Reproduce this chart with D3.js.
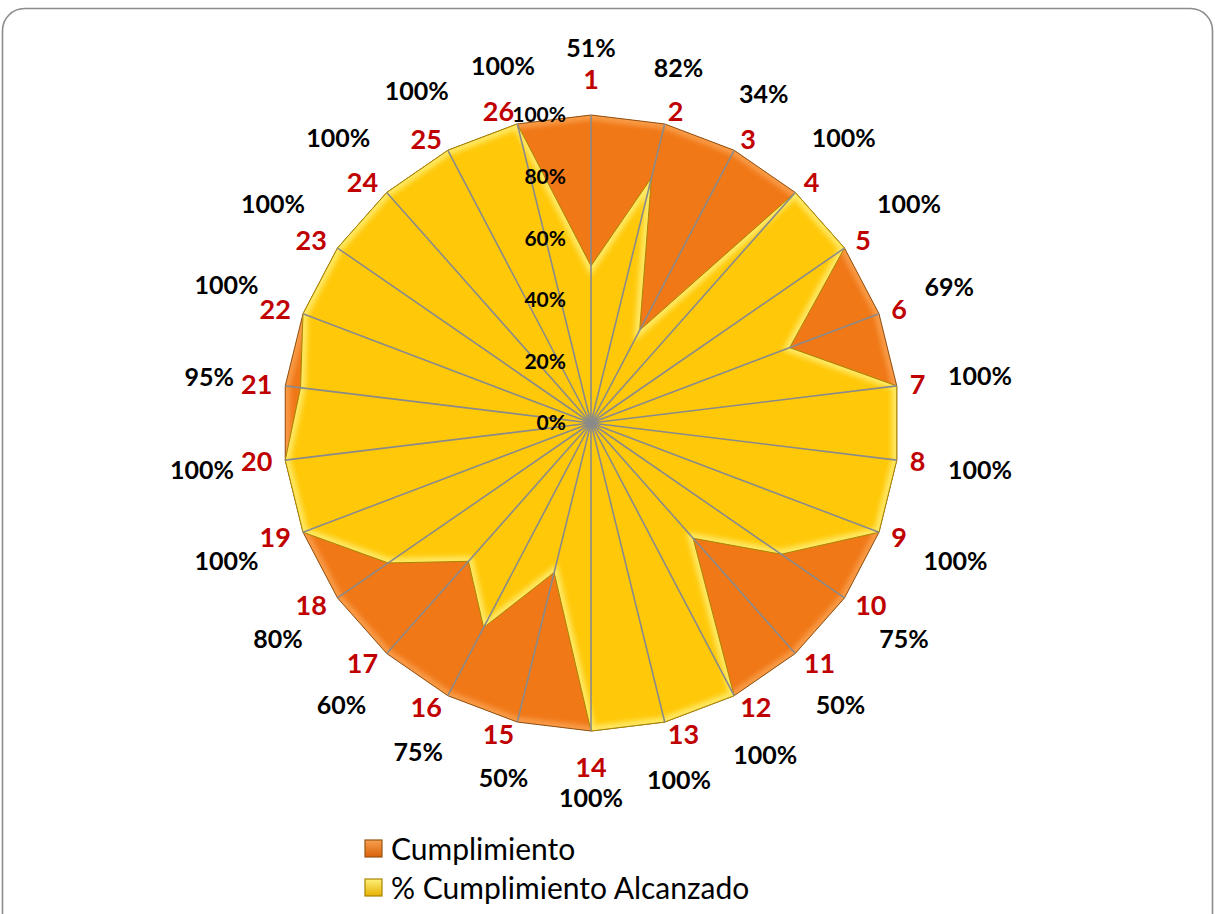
<!DOCTYPE html>
<html>
<head>
<meta charset="utf-8">
<script src="https://cdn.jsdelivr.net/npm/d3@7"></script>
<style>
  body { margin: 0; background: #fff; }
  #svg-container { width: 1215px; height: 914px; }
  text { font-family: Lato, "Open Sans", sans-serif; }
</style>
</head>
<body>
<div id="svg-container"></div>
<script>
// categorias (ejes del radar)
const categories = d3.range(1, 27).map(String)
// serie 1: cumplimiento (meta, 100% en todos)
const cumplimiento = [1,1,1,1,1,1,1,1,1,1,1,1,1,1,1,1,1,1,1,1,1,1,1,1,1,1]
// serie 2: % cumplimiento alcanzado
const alcanzado = [0.51,0.82,0.34,1,1,0.69,1,1,1,0.75,0.50,1,1,1,0.50,0.75,0.60,0.80,1,1,0.95,1,1,1,1,1]
// etiquetas de la escala radial
const ticks = [0, 0.2, 0.4, 0.6, 0.8, 1]
const seriesNames = ['Cumplimiento', '% Cumplimiento Alcanzado']

const width = 1215, height = 914
const cx = 591, cy = 423, radius = 308

const svg = d3.select('#svg-container').append('svg')
    .attr('width', width).attr('height', height)

//borde del grafico
svg.append('rect')
    .attr('x', 2.5).attr('y', 8.5).attr('width', 1210).attr('height', 960)
    .attr('rx', 22).attr('fill', '#fff').attr('stroke', '#8c8c8c').attr('stroke-width', 1.6)

const defs = svg.append('defs')
defs.append('filter').attr('id', 'blur').append('feGaussianBlur').attr('stdDeviation', 2.5)

const rScale = d3.scaleLinear().domain([0, 1]).range([0, radius])
const angle = d3.scaleLinear().domain([0, categories.length]).range([0, 2 * Math.PI])
const fmt = d3.format('.0%')

const g = svg.append('g').attr('transform', `translate(${cx}, ${cy})`)

const line = d3.lineRadial()
    .angle((d, i) => angle(i))
    .radius(d => rScale(d))
    .curve(d3.curveLinearClosed)

//series: relleno + bisel
const styles = [
    { data: cumplimiento, fill: '#f07817', light: '#fba455', dark: '#8f4f10', id: 'clipA' },
    { data: alcanzado, fill: '#ffc90a', light: '#fff07a', dark: '#a88400', id: 'clipB' }
]
styles.forEach(s => {
    defs.append('clipPath').attr('id', s.id)
        .append('path').attr('transform', `translate(${cx}, ${cy})`).attr('d', line(s.data))
    g.append('path').attr('d', line(s.data)).attr('fill', s.fill)
    g.append('g').attr('transform', `translate(${-cx}, ${-cy})`).attr('clip-path', `url(#${s.id})`)
        .append('path').attr('transform', `translate(${cx}, ${cy})`)
        .attr('d', line(s.data)).attr('fill', 'none')
        .attr('stroke', s.light).attr('stroke-width', 10).attr('opacity', 0.8)
        .attr('filter', 'url(#blur)')
    g.append('path').attr('d', line(s.data)).attr('fill', 'none')
        .attr('stroke', s.dark).attr('stroke-width', 1).attr('stroke-linejoin', 'round')
})

const over = svg.append('g').attr('transform', `translate(${cx}, ${cy})`)

//radios
over.selectAll('line.spoke').data(categories).enter().append('line')
    .attr('x1', 0).attr('y1', 0)
    .attr('x2', (d, i) => rScale(1) * Math.sin(angle(i)))
    .attr('y2', (d, i) => -rScale(1) * Math.cos(angle(i)))
    .attr('stroke', '#8a8a8a').attr('stroke-width', 1.6)

//escala
over.selectAll('text.tick').data(ticks).enter().append('text')
    .attr('x', -25).attr('y', d => -rScale(d))
    .attr('dy', '0.35em').attr('text-anchor', 'end')
    .attr('font-size', 21).attr('font-weight', 'bold').attr('fill', '#000')
    .text(d => fmt(d))

//etiquetas de categoria: a distancia fija y empujadas hacia afuera segun su ancho
over.selectAll('text.cat').data(categories).enter().append('text')
    .attr('text-anchor', 'middle').attr('dy', '0.36em')
    .attr('font-size', 27).attr('font-weight', 'bold').attr('fill', '#c00000')
    .text(d => d)
    .each(function (d, i) {
        const a = angle(i)
        const w = this.getComputedTextLength()
        const s = Math.sin(a)
        const r = Math.abs(s) < 0.01 ? 344 : 321
        const push = Math.abs(s) < 0.01 ? 0 : Math.sign(s) * w / 2
        d3.select(this).attr('x', r * s + push).attr('y', -r * Math.cos(a))
    })

//etiquetas de datos
over.selectAll('text.val').data(alcanzado).enter().append('text')
    .attr('text-anchor', 'middle').attr('dy', '0.36em')
    .attr('font-size', 25).attr('font-weight', 'bold').attr('fill', '#000')
    .text(d => fmt(d))
    .each(function (d, i) {
        const a = angle(i)
        const w = this.getComputedTextLength()
        const s = Math.abs(Math.sin(a))
        const r = s < 0.01 ? 375 : 360 + w / 2 * s
        d3.select(this).attr('x', r * Math.sin(a)).attr('y', -r * Math.cos(a))
    })

//leyenda
const grads = [['legA', '#f7a050', '#d9620a'], ['legB', '#fff07a', '#e6b000']]
grads.forEach(([id, c0, c1]) => {
    const lg = defs.append('linearGradient').attr('id', id)
        .attr('x1', 0).attr('y1', 0).attr('x2', 0).attr('y2', 1)
    lg.append('stop').attr('offset', 0).attr('stop-color', c0)
    lg.append('stop').attr('offset', 1).attr('stop-color', c1)
})
const legend = svg.append('g').attr('transform', 'translate(365, 840)')
const legendStroke = ['#9a5512', '#a88400']
seriesNames.forEach((name, i) => {
    const row = legend.append('g').attr('transform', `translate(0, ${i * 39})`)
    row.append('rect').attr('width', 17).attr('height', 17)
        .attr('fill', `url(#${grads[i][0]})`).attr('stroke', legendStroke[i]).attr('stroke-width', 1.2)
    row.append('text').attr('x', 26).attr('y', 9).attr('dy', '0.36em')
        .attr('font-size', 30).attr('fill', '#000')
        .text(name)
})
</script>
</body>
</html>
